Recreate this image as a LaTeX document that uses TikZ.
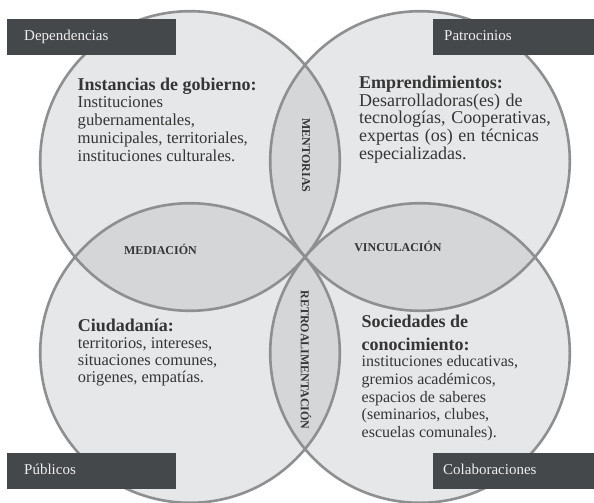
\documentclass[tikz,border=0pt]{standalone}
\usepackage{fontspec}
\setmainfont{Liberation Serif}
\definecolor{circfill}{HTML}{E6E7E8}
\definecolor{lensfill}{HTML}{D5D6D8}
\definecolor{circline}{HTML}{8E8F91}
\definecolor{boxfill}{HTML}{45484B}
\definecolor{txt}{HTML}{353535}
\definecolor{boxtxt}{HTML}{EEEEEE}
\newcommand\myhd[1]{\hbox{\fontsize{18}{18}\selectfont\bfseries #1}}
\newcommand\myln[1]{\hbox{#1}}
\tikzset{
  blk/.style={inner sep=0pt, anchor=base west, text=txt},
  labelbox/.style={fill=boxfill, text=boxtxt, anchor=north west, minimum height=36pt,
     font=\fontsize{15}{15}\selectfont, align=left, text height=10pt, text depth=3.3pt, inner ysep=0pt},
  lenslbl/.style={inner sep=0pt, text=txt, font=\fontsize{12}{12}\selectfont\bfseries},
  ring/.style={draw=circline, line width=2.6pt}
}
\begin{document}
\begin{tikzpicture}[x=1pt,y=-1pt]
\useasboundingbox (0,0) rectangle (594,503);
\fill[white] (0,0) rectangle (594,503);
\coordinate (TL) at (190,161);
\coordinate (TR) at (420,161);
\coordinate (BL) at (190,353);
\coordinate (BR) at (420,353);
\def\R{149.8pt}
% circle fills
\foreach \c in {TL,TR,BL,BR} \fill[circfill] (\c) circle (\R);
% lenses
\begin{scope}
  \clip (TL) circle (\R);
  \fill[lensfill] (TR) circle (\R);
  \fill[lensfill] (BL) circle (\R);
\end{scope}
\begin{scope}
  \clip (BR) circle (\R);
  \fill[lensfill] (TR) circle (\R);
  \fill[lensfill] (BL) circle (\R);
\end{scope}
% outlines
\foreach \c in {TL,TR,BL,BR} \draw[ring] (\c) circle (\R);

% text blocks
\node[blk] (gob) at (77.5,90) {\vtop{\lineskiplimit=-100pt\lineskip=0pt\fontsize{16.7}{17.9}\selectfont
  \myhd{Instancias de gobierno:}\myln{Instituciones}\myln{gubernamentales,}\myln{municipales, territoriales,}\myln{instituciones culturales.}}};
\node[blk] (emp) at (359,88.3) {\vtop{\lineskiplimit=-100pt\lineskip=0pt\fontsize{18}{17.7}\selectfont\spaceskip=5.6pt plus 1pt
  \myhd{Emprendimientos:}\myln{Desarrolladoras(es) de}\myln{tecnologías, Cooperativas,}\myln{expertas (os) en técnicas}\myln{especializadas.}}};
\node[blk] (ciu) at (77.7,331) {\vtop{\lineskiplimit=-100pt\lineskip=0pt\fontsize{16.4}{17}\selectfont
  \myhd{Ciudadanía:}\myln{territorios, intereses,}\myln{situaciones comunes,}\myln{origenes, empatías.}}};
\node[blk] (soc) at (361.5,327.7) {\vtop{\lineskiplimit=-100pt\lineskip=0pt\fontsize{16}{17.7}\selectfont
  \baselineskip=22.3pt\myhd{Sociedades de}\myhd{conocimiento:}\baselineskip=16.7pt\myln{instituciones educativas,}\baselineskip=17.75pt\myln{gremios académicos,}\myln{espacios de saberes}\myln{(seminarios, clubes,}\myln{escuelas comunales).}}};

% lens labels
\node[lenslbl, anchor=base] (med) at (160.5,254) {MEDIACIÓN};
\node[lenslbl, anchor=base] (vin) at (398,251) {VINCULACIÓN};
\node[lenslbl, rotate=-90] (men) at (306,155.5) {MENTORIAS};
\node[lenslbl, rotate=-90] (ret) at (306,360) {RETROALIMENTACIÓN};

% corner boxes
\node[labelbox, inner xsep=17pt, text width=135pt] (dep) at (7,19) {Dependencias};
\node[labelbox, inner xsep=11pt, text width=139pt] (pat) at (433,19) {Patrocinios};
\node[labelbox, inner xsep=17pt, text width=135pt] (pub) at (7,453) {Públicos};
\node[labelbox, inner xsep=10pt, text width=141pt] (col) at (433,453) {Colaboraciones};
\end{tikzpicture}
\end{document}
